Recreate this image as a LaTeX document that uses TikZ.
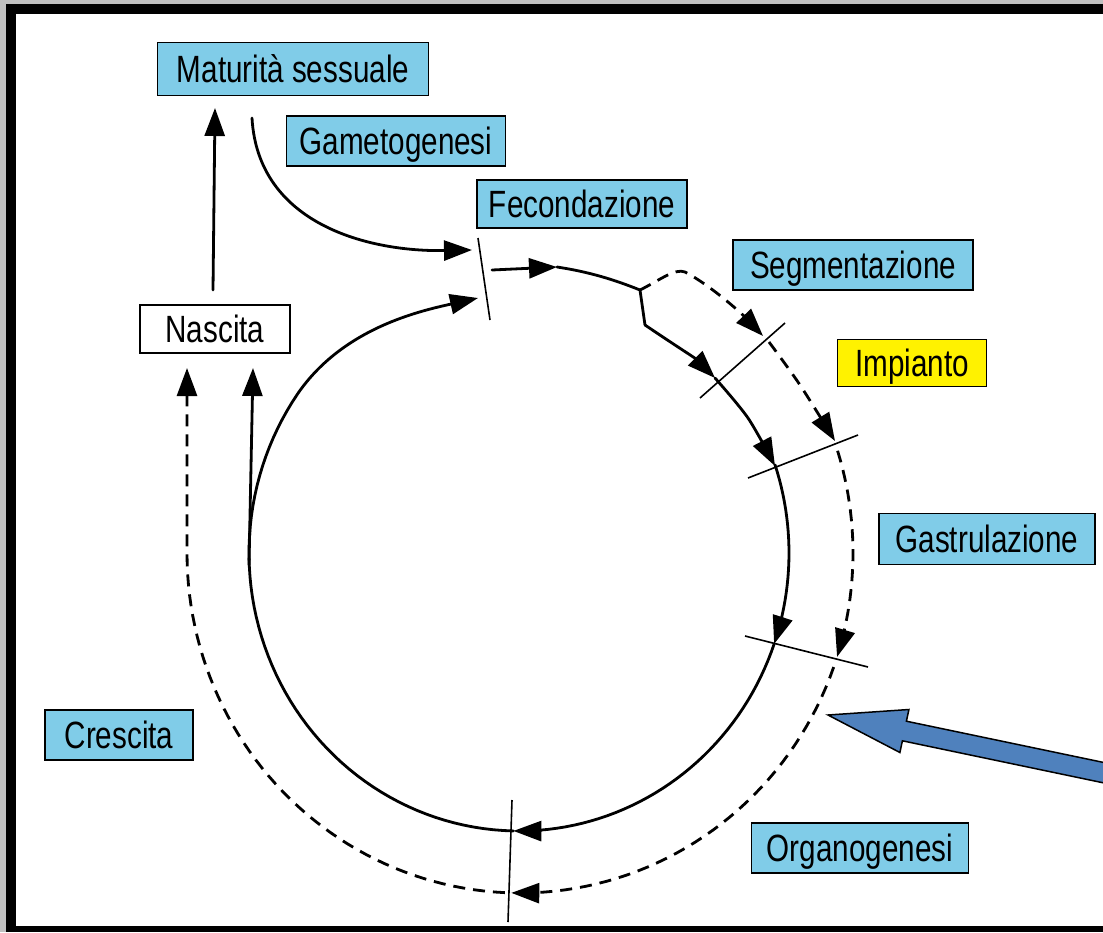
\documentclass[tikz,border=0pt]{standalone}
\usepackage{fontspec}
\setmainfont{Liberation Sans}[FakeStretch=0.78]
\usetikzlibrary{arrows.meta}
\definecolor{lblue}{RGB}{128,204,232}
\definecolor{bigblue}{RGB}{79,129,189}
\definecolor{margin}{RGB}{192,192,192}
\tikzset{
  lab/.style={draw=black, line width=1.5pt, fill=lblue, inner sep=0pt,
    text height=27pt, text depth=0pt,
    font=\fontsize{38}{44}\selectfont},
  sol/.style={line width=2.8pt, line cap=round},
  das/.style={line width=2.8pt, dash pattern=on 12pt off 8pt},
  tk/.style={line width=1.6pt},
  tip/.style={-{Triangle[length=28pt,width=20pt]}},
}
\begin{document}
\begin{tikzpicture}[x=1pt,y=-1pt]
\useasboundingbox (0,0) rectangle (1103,932);
% frame
\fill[margin] (0,0) rectangle (1103,932);
\fill[black] (6,4) rectangle (1103,932);
\fill[white] (16,14) rectangle (1103,926);

% labels
\node[lab, minimum width=271pt, minimum height=53pt] (mat) at (293,69) {Maturità sessuale};
\node[lab, minimum width=219pt, minimum height=50pt] (gam) at (396,141) {Gametogenesi};
\node[lab, minimum width=210pt, minimum height=48pt] (fec) at (582,204) {Fecondazione};
\node[lab, minimum width=240pt, minimum height=50pt] (seg) at (853,265) {Segmentazione};
\node[lab, fill=yellow, minimum width=149pt, minimum height=47pt] (imp) at (912,363) {Impianto};
\node[lab, minimum width=216pt, minimum height=51pt] (gas) at (987,539) {Gastrulazione};
\node[lab, minimum width=217pt, minimum height=50pt] (org) at (860,848) {Organogenesi};
\node[lab, minimum width=148pt, minimum height=50pt] (cre) at (119,735) {Crescita};
\node[lab, fill=white, minimum width=150pt, minimum height=48pt] (nas) at (215,329) {Nascita};

% tick lines
\coordinate (t0a) at (478,238); \coordinate (t0b) at (490,320);
\coordinate (t1a) at (700,398); \coordinate (t1b) at (785,323);
\coordinate (t2a) at (748,478); \coordinate (t2b) at (858,435);
\coordinate (t3a) at (745,636); \coordinate (t3b) at (868,667);
\coordinate (t4a) at (512,800); \coordinate (t4b) at (508,922);
\draw[tk] (t0a) -- (t0b);
\draw[tk] (t1a) -- (t1b);
\draw[tk] (t2a) -- (t2b);
\draw[tk] (t3a) -- (t3b);
\draw[tk] (t4a) -- (t4b);

% key points
\coordinate (kink) at (640,290);
\coordinate (s1) at (715,378);
\coordinate (s2) at (775,466);
\coordinate (s5) at (478,298);
\coordinate (sl) at (249,565);
\coordinate (d1) at (763,336);
\coordinate (dl) at (187,368);
\coordinate (g0) at (252,118);
\coordinate (gE) at (472,250);
\coordinate (sA) at (557,267);

% Gametogenesi arrow
\draw[sol, tip] (g0) .. controls (258,225) and (370,252) .. (gE);
% Nascita -> Maturita
\draw[sol, tip] (213,290) -- (215,108);

% solid cycle (ellipse centre 519,553; rx 270; ry 278)
\draw[sol, tip] (492,270) -- (sA);
\draw[sol] (sA) .. controls (590,272) and (615,280) .. (kink) -- (645,325);
\draw[sol, tip] (645,325) .. controls (670,342) and (695,358) .. (s1);
\draw[sol, tip] plot[smooth] coordinates {(s1) (748,418) (s2)};
\draw[sol, tip] plot[domain=-18.5:19.1, samples=25] ({519+270*cos(\x)}, {553+278*sin(\x)});
\draw[sol, tip] plot[domain=19.1:91.2, samples=40] ({519+270*cos(\x)}, {553+278*sin(\x)});
\draw[sol, tip] plot[domain=91.2:215, samples=60] ({519+270*cos(\x)}, {553+278*sin(\x)})
   .. controls (343,328) and (420,311) .. (s5);
\draw[sol, tip] (sl) -- (253,368);

% dashed cycle (ellipse centre 520,553; rx 333; ry 340)
\draw[das, tip] (kink) .. controls (660,280) and (675,268) .. (685,272)
   .. controls (710,285) and (740,312) .. (d1);
\draw[das, tip] plot[smooth] coordinates {(769,342) (800,385) (835,441)};
\draw[das, tip] plot[domain=-17.5:17.8, samples=25] ({520+333*cos(\x)}, {553+340*sin(\x)});
\draw[das, tip] plot[domain=19.6:91.5, samples=40] ({520+333*cos(\x)}, {553+340*sin(\x)});
\draw[das, tip] plot[domain=92.6:180, samples=50] ({520+333*cos(\x)}, {553+340*sin(\x)}) -- (dl);

% big blue arrow
\begin{scope}
\clip (0,0) rectangle (1103,926);
\draw[fill=bigblue, line width=1.5pt, line join=miter]
  (828,715) -- (908.9,709.5) -- (906.4,721.2) -- (1122,766.3) -- (1118,785.9)
  -- (902.4,740.8) -- (899.9,752.5) -- cycle;
\end{scope}
\end{tikzpicture}
\end{document}
